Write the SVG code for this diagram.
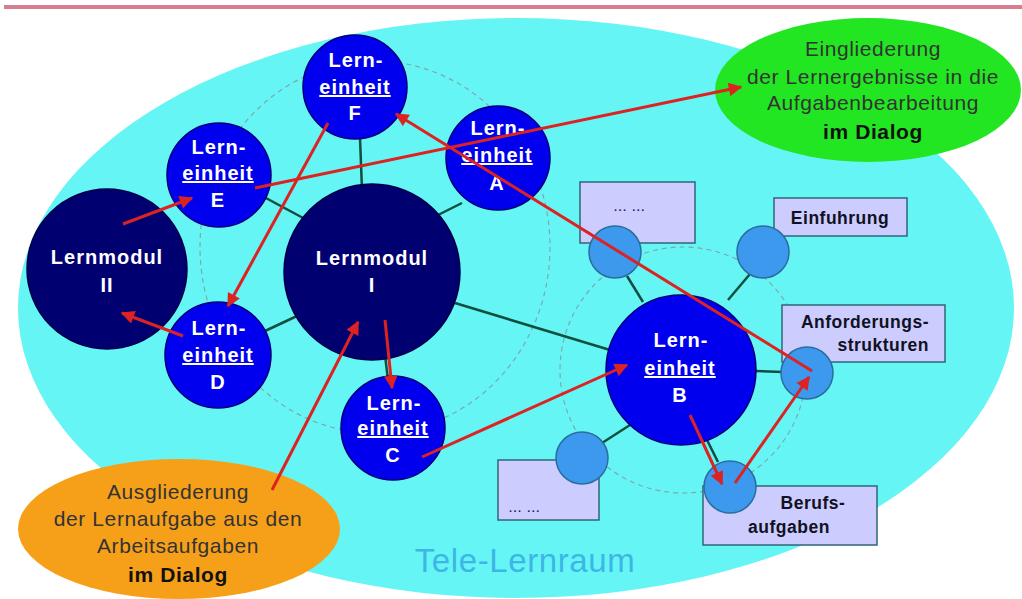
<svg xmlns="http://www.w3.org/2000/svg" width="1022" height="599" viewBox="0 0 1022 599">
<style>
.lu{fill:#0000ee;stroke:#00007a;stroke-width:1.5}
.lm{fill:#000070;stroke:#00004a;stroke-width:1.5}
.sc{fill:#3d99ee;stroke:#2b6d9c;stroke-width:1.5}
.bx{fill:#ccccff;stroke:#2f6677;stroke-width:1.5}
.dash{fill:none;stroke:#7fa9a9;stroke-width:1.2;stroke-dasharray:5 4}
.ln{stroke:#0f4f3f;stroke-width:2.5;fill:none}
.ar{stroke:#dd2222;stroke-width:3;fill:none;marker-end:url(#ah)}
.wt{font-family:"Liberation Sans",Arial,sans-serif;font-weight:bold;fill:#ffffff;text-anchor:middle;font-size:20px;letter-spacing:1px}
.ul{text-decoration:underline}
.bt{font-family:"Liberation Sans",Arial,sans-serif;font-weight:bold;fill:#111122;font-size:17.5px;letter-spacing:0.5px}
.et{font-family:"Liberation Sans",Arial,sans-serif;fill:#333333;text-anchor:middle;font-size:21px;letter-spacing:0.6px}
.eb{font-weight:bold;fill:#111111}
.dt{font-family:"Liberation Sans",Arial,sans-serif;fill:#222266;font-size:11px;font-weight:bold;letter-spacing:1.5px}
</style>
<defs>
<marker id="ah" viewBox="0 0 10 10" refX="9" refY="5" markerWidth="5" markerHeight="4.5" orient="auto" markerUnits="strokeWidth">
<path d="M0,0 L10,5 L0,10 Z" fill="#dd2222"/>
</marker>
</defs>
<rect x="0" y="0" width="1022" height="599" fill="#ffffff"/>
<rect x="4" y="5" width="1018" height="4" fill="#d77d8d"/>
<g id="lernraum">
<ellipse cx="516" cy="308" rx="498" ry="290" fill="#66f5f5"/>
<text x="525" y="572" font-family="'Liberation Sans',Arial,sans-serif" font-size="33" letter-spacing="0.6" fill="#3cb6e6" text-anchor="middle">Tele-Lernraum</text>
</g>
<g id="dashed-rings">
<ellipse class="dash" cx="375" cy="247" rx="175" ry="186"/>
<circle class="dash" cx="683" cy="370" r="123"/>
</g>
<g id="connectors">
<line class="ln" x1="360" y1="138" x2="362" y2="190"/>
<line class="ln" x1="264" y1="197" x2="305" y2="219"/>
<line class="ln" x1="462" y1="203" x2="438" y2="215"/>
<line class="ln" x1="265" y1="331" x2="297" y2="316"/>
<line class="ln" x1="455" y1="303" x2="610" y2="350"/>
<line class="ln" x1="385" y1="355" x2="388" y2="380"/>
<line class="ln" x1="643" y1="302" x2="627" y2="276"/>
<line class="ln" x1="728" y1="300" x2="750" y2="274"/>
<line class="ln" x1="755" y1="371" x2="783" y2="372"/>
<line class="ln" x1="630" y1="425" x2="602" y2="443"/>
<line class="ln" x1="707" y1="440" x2="718" y2="462"/>
</g>
<g id="box-dots1"><rect class="bx" x="580" y="182" width="115" height="61"/><text class="dt" x="614" y="211">... ...</text></g>
<g id="box-einfuhrung"><rect class="bx" x="774" y="198" width="133" height="38"/><text class="bt" x="840" y="224" text-anchor="middle">Einfuhrung</text></g>
<g id="box-anforderung"><rect class="bx" x="782" y="305" width="163" height="57"/><text class="bt" x="929" y="328" text-anchor="end">Anforderungs-</text><text class="bt" x="929" y="351" text-anchor="end">strukturen</text></g>
<g id="box-berufs"><rect class="bx" x="703" y="486" width="174" height="59"/><text class="bt" x="813" y="509" text-anchor="middle">Berufs-</text><text class="bt" x="789" y="533" text-anchor="middle">aufgaben</text></g>
<g id="box-dots2"><rect class="bx" x="498" y="460" width="101" height="60"/><text class="dt" x="509" y="512">... ...</text></g>
<g id="sc1"><circle class="sc" cx="615" cy="252" r="26"/></g>
<g id="sc2"><circle class="sc" cx="763" cy="252" r="26"/></g>
<g id="sc3"><circle class="sc" cx="807" cy="373" r="26"/></g>
<g id="sc4"><circle class="sc" cx="582" cy="458" r="26"/></g>
<g id="sc5"><circle class="sc" cx="730" cy="487" r="26"/></g>
<g id="eingliederung">
<ellipse cx="868" cy="90" rx="153" ry="72" fill="#22e622"/>
<text class="et" x="873" y="56">Eingliederung</text>
<text class="et" x="873" y="84">der Lernergebnisse in die</text>
<text class="et" x="873" y="110">Aufgabenbearbeitung</text>
<text class="et eb" x="873" y="139">im Dialog</text>
</g>
<g id="ausgliederung">
<ellipse cx="179" cy="529" rx="161" ry="70" fill="#f6a01a"/>
<text class="et" x="178" y="499">Ausgliederung</text>
<text class="et" x="178" y="526">der Lernaufgabe aus den</text>
<text class="et" x="178" y="553">Arbeitsaufgaben</text>
<text class="et eb" x="178" y="582">im Dialog</text>
</g>
<g id="lernmodul-II"><circle class="lm" cx="107" cy="269" r="80"/><text class="wt" x="107" y="264" font-size="22">Lernmodul</text><text class="wt" x="107" y="292" font-size="22">II</text></g>
<g id="lernmodul-I"><circle class="lm" cx="372" cy="272" r="88"/><text class="wt" x="372" y="265" font-size="22">Lernmodul</text><text class="wt" x="372" y="292" font-size="22">I</text></g>
<g id="lerneinheit-F"><circle class="lu" cx="355" cy="87" r="52"/><text class="wt" x="356" y="67">Lern-</text><text class="wt ul" x="355" y="94">einheit</text><text class="wt" x="355" y="120">F</text></g>
<g id="lerneinheit-E"><circle class="lu" cx="219" cy="175" r="52"/><text class="wt" x="219" y="154">Lern-</text><text class="wt ul" x="218" y="180">einheit</text><text class="wt" x="218" y="207">E</text></g>
<g id="lerneinheit-A"><circle class="lu" cx="498" cy="158" r="52"/><text class="wt" x="498" y="135">Lern-</text><text class="wt ul" x="497" y="162">einheit</text><text class="wt" x="497" y="190">A</text></g>
<g id="lerneinheit-D"><circle class="lu" cx="218" cy="355" r="53"/><text class="wt" x="219" y="335">Lern-</text><text class="wt ul" x="218" y="362">einheit</text><text class="wt" x="218" y="389">D</text></g>
<g id="lerneinheit-C"><circle class="lu" cx="393" cy="428" r="52"/><text class="wt" x="394" y="410">Lern-</text><text class="wt ul" x="393" y="435">einheit</text><text class="wt" x="393" y="462">C</text></g>
<g id="lerneinheit-B"><circle class="lu" cx="681" cy="370" r="75"/><text class="wt" x="681" y="347">Lern-</text><text class="wt ul" x="680" y="375">einheit</text><text class="wt" x="680" y="402">B</text></g>
<g id="arrows">
<line class="ar" x1="123" y1="224" x2="192" y2="198"/>
<line class="ar" x1="328" y1="123" x2="228" y2="306"/>
<line class="ar" x1="183" y1="336" x2="122" y2="313"/>
<line class="ar" x1="255" y1="188" x2="741" y2="87"/>
<line class="ar" x1="812" y1="371" x2="396" y2="114"/>
<line class="ar" x1="735" y1="483" x2="809" y2="377"/>
<line class="ar" x1="690" y1="415" x2="722" y2="484"/>
<line class="ar" x1="422" y1="457" x2="627" y2="365"/>
<line class="ar" x1="385" y1="320" x2="392" y2="388"/>
<line class="ar" x1="272" y1="490" x2="358" y2="322"/>
</g>
</svg>
